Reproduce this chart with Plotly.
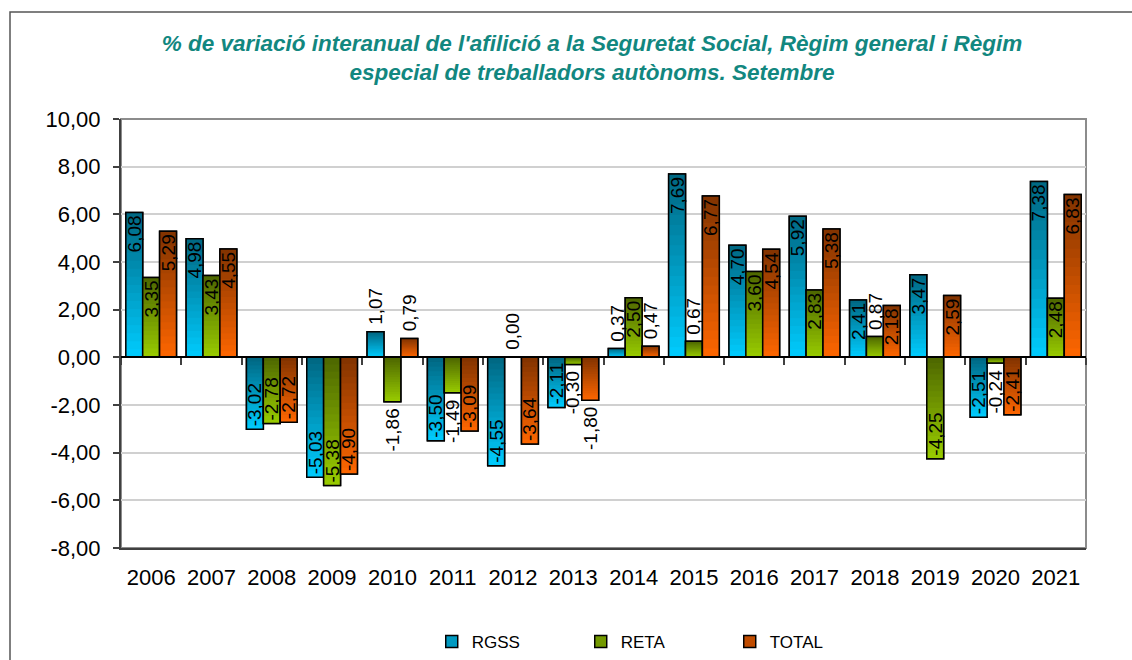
import plotly.graph_objects as go

years = ["2006", "2007", "2008", "2009", "2010", "2011", "2012", "2013",
         "2014", "2015", "2016", "2017", "2018", "2019", "2020", "2021"]
rgss = [6.08, 4.98, -3.02, -5.03, 1.07, -3.50, -4.55, -2.11, 0.37, 7.69, 4.70, 5.92, 2.41, 3.47, -2.51, 7.38]
reta = [3.35, 3.43, -2.78, -5.38, -1.86, -1.49, 0.00, -0.30, 2.50, 0.67, 3.60, 2.83, 0.87, -4.25, -0.24, 2.48]
total = [5.29, 4.55, -2.72, -4.90, 0.79, -3.09, -3.64, -1.80, 0.47, 6.77, 4.54, 5.38, 2.18, 2.59, -2.41, 6.83]

series = [
    ("RGSS", rgss, (0, 102, 128), (0, 204, 255)),
    ("RETA", reta, (77, 102, 0), (153, 204, 0)),
    ("TOTAL", total, (128, 51, 0), (255, 102, 0)),
]
y_ticks = [-8, -6, -4, -2, 0, 2, 4, 6, 8, 10]
y_min, y_max = -8, 10

FONT = "Arial, Liberation Sans, sans-serif"
LABEL_SIZE = 19
BAR_W = 0.28
OFFSETS = [-0.42, -0.14, 0.14]
N = 18
OUTSIDE_LIMIT = 2.0


def mix(dark, light, t):
    r = [round(d * (1 - t) + l * t) for d, l in zip(dark, light)]
    return f"rgb({r[0]},{r[1]},{r[2]})"


def fmt(v):
    return f"{v:.2f}".replace(".", ",")


fig = go.Figure()
annotations = []

for (name, vals, dark, light), off in zip(series, OFFSETS):
    # legend trace (solid mid colour, hidden below gradient)
    fig.add_trace(go.Bar(
        x=years, y=vals, name=name, width=BAR_W, offset=off,
        marker=dict(color=mix(dark, light, 0.5), line=dict(color="black", width=1.5)),
        hoverinfo="skip", textposition="none"))
    # nested gradient segments
    for k in range(N):
        frac = (N - k) / N
        cols = []
        for v in vals:
            t = (k + 0.5) / N if v >= 0 else 1 - (k + 0.5) / N
            cols.append(mix(dark, light, t))
        fig.add_trace(go.Bar(
            x=years, y=[v * frac for v in vals], width=BAR_W, offset=off,
            marker=dict(color=cols, line=dict(width=0)),
            showlegend=False, hoverinfo="skip", textposition="none"))
    # outline + inside labels
    positions = ["inside" if abs(v) >= OUTSIDE_LIMIT else "none" for v in vals]
    fig.add_trace(go.Bar(
        x=years, y=vals, width=BAR_W, offset=off, showlegend=False,
        marker=dict(color="rgba(0,0,0,0)", line=dict(color="black", width=1.5)),
        text=[fmt(v) for v in vals],
        textposition=positions, textangle=-90, insidetextanchor="end",
        constraintext="none", cliponaxis=False,
        insidetextfont=dict(family=FONT, size=LABEL_SIZE, color="black"),
        hoverinfo="skip"))
    # outside labels for short bars
    for i, v in enumerate(vals):
        if abs(v) < OUTSIDE_LIMIT:
            annotations.append(dict(
                x=i + off + BAR_W / 2, y=v, xref="x", yref="y",
                text=fmt(v), textangle=-90, showarrow=False,
                xanchor="center", yanchor="bottom" if v >= 0 else "top",
                yshift=5 if v >= 0 else -5,
                font=dict(family=FONT, size=LABEL_SIZE, color="black")))

# dummy trace for the boundary-tick axis
fig.add_trace(go.Scatter(x=[None], y=[None], xaxis="x2", yaxis="y", showlegend=False))

zero_pos = (0 - y_min) / (y_max - y_min)

fig.update_layout(
    width=1132, height=660,
    barmode="overlay",
    paper_bgcolor="white", plot_bgcolor="white",
    margin=dict(l=121, r=46, t=119, b=112, autoexpand=False),
    font=dict(family=FONT, color="black"),
    title=dict(
        text="% de variació interanual de l'afilició a la Seguretat Social, Règim general i Règim<br>especial de treballadors autònoms. Setembre",
        x=0.523, xanchor="center", y=0.923, yanchor="middle", yref="container",
        font=dict(family=FONT, size=22.5, color="#12877F", weight="bold", style="italic")),
    xaxis=dict(
        type="category", categoryorder="array", categoryarray=years,
        range=[-0.5, len(years) - 0.5], automargin=False,
        showgrid=False, showline=True, linecolor="#404040", linewidth=2,
        ticks="", ticklabelstandoff=9,
        tickfont=dict(family=FONT, size=22, color="black")),
    xaxis2=dict(
        overlaying="x", anchor="free", position=zero_pos, automargin=False,
        range=[-0.5, len(years) - 0.5],
        tickvals=[i - 0.5 for i in range(len(years) + 1)],
        showticklabels=False, ticks="outside", ticklen=7, tickcolor="#404040", tickwidth=1.5,
        showline=True, linecolor="black", linewidth=1.5, showgrid=False, zeroline=False),
    yaxis=dict(
        range=[y_min, y_max], tickvals=y_ticks, ticktext=[fmt(v) for v in y_ticks],
        automargin=False,
        showgrid=True, gridcolor="#D0D0D0", gridwidth=1.5, zeroline=False,
        showline=True, linecolor="#404040", linewidth=2,
        ticks="outside", ticklen=6, tickcolor="#404040", tickwidth=1.5,
        ticklabelstandoff=8,
        tickfont=dict(family=FONT, size=22, color="black")),
    legend=dict(
        orientation="h", x=0.322, xanchor="left", y=-0.219, yanchor="middle",
        font=dict(family=FONT, size=17, color="black"),
        entrywidth=104, entrywidthmode="pixels", itemwidth=30,
        traceorder="normal"),
    annotations=annotations,
    shapes=[
        dict(type="rect", xref="paper", yref="paper", x0=0, x1=1, y0=0, y1=1,
             line=dict(color="#8C8C8C", width=2), layer="below"),
        dict(type="rect", xref="paper", yref="paper", x0=(10 - 121) / 965, x1=1.2,
             y0=-0.4, y1=(548 - 12) / 429,
             line=dict(color="#555555", width=1.5), layer="below"),
    ],
)

fig.write_html(
    "out.html",
    config={"displayModeBar": False},
    post_script="document.body.style.margin='0';document.body.style.overflow='hidden';")
